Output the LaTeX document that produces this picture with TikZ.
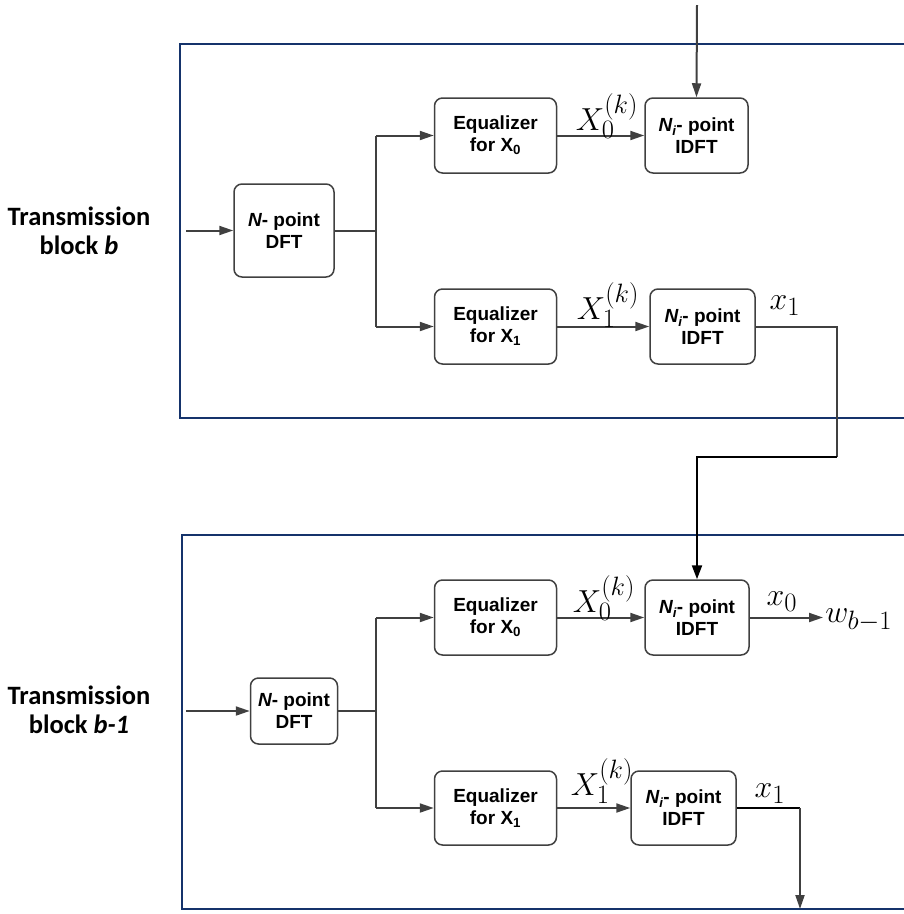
\documentclass[tikz,border=0pt]{standalone}
\usepackage[no-math]{fontspec}
\setmainfont{Liberation Sans}
\newfontfamily\calfont{Carlito}
\usetikzlibrary{arrows.meta}
\definecolor{framecol}{HTML}{15336B}
\definecolor{linecol}{HTML}{404040}
\tikzset{
  blk/.style={draw=linecol, line width=1.5pt, rounded corners=8pt, align=center, inner sep=0pt,
    font=\fontsize{19}{22}\selectfont\bfseries},
  frame/.style={draw=framecol, line width=2.8pt},
  conn/.style={draw=linecol, line width=2pt},
  arr/.style={conn, -{Triangle[length=14pt,width=9pt]}},
  darr/.style={draw=black, line width=2.2pt, -{Triangle[length=14pt,width=10pt]}},
  dconn/.style={draw=black, line width=2.2pt},
  mlab/.style={inner sep=0pt, font=\fontsize{24.88}{28}\selectfont, scale=1.28, transform shape},
  tlab/.style={align=center, font=\fontsize{26.5}{29}\selectfont\calfont\bfseries}
}
\newcommand{\Npt}{{\itshape N}- point}
\newcommand{\Nipt}{{\itshape N\textsubscript{i}}- point}
\begin{document}
\begin{tikzpicture}[x=1pt,y=-1pt]
\useasboundingbox (0,0) rectangle (904,914);
% frames
\draw[frame] (904,44) -- (180,44) -- (180,418) -- (904,418);
\draw[frame] (904,535) -- (182,535) -- (182,909) -- (904,909);
% labels
\node[tlab] (tb1) at (79,231) {Transmission\\block \textit{b}};
\node[tlab] (tb2) at (79,710) {Transmission\\block \textit{b-1}};
% top block nodes
\node[blk, minimum width=100pt, minimum height=93pt] (dft1) at (284,230.5) {\Npt\\DFT};
\node[blk, minimum width=122pt, minimum height=75pt] (eq10) at (495.5,135.5) {Equalizer\\for X\textsubscript{0}};
\node[blk, minimum width=103pt, minimum height=75pt] (idft10) at (696.5,135.5) {\Nipt\\IDFT};
\node[blk, minimum width=122pt, minimum height=75pt] (eq11) at (495.5,326.5) {Equalizer\\for X\textsubscript{1}};
\node[blk, minimum width=105pt, minimum height=75pt] (idft11) at (702.5,326.5) {\Nipt\\IDFT};
% bottom block nodes
\node[blk, minimum width=87pt, minimum height=66pt] (dft2) at (294,711) {\Npt\\DFT};
\node[blk, minimum width=122pt, minimum height=75pt] (eq20) at (495.5,617.5) {Equalizer\\for X\textsubscript{0}};
\node[blk, minimum width=104pt, minimum height=75pt] (idft20) at (697,617.5) {\Nipt\\IDFT};
\node[blk, minimum width=122pt, minimum height=74pt] (eq21) at (495.5,808) {Equalizer\\for X\textsubscript{1}};
\node[blk, minimum width=105pt, minimum height=74pt] (idft21) at (683.5,808) {\Nipt\\IDFT};
% coordinates
\coordinate (topin) at (697,5);
\coordinate (in1) at (186,230.5);
\coordinate (br1) at (376,230.5);
\coordinate (br1a) at (376,135.5);
\coordinate (br1b) at (376,326.5);
\coordinate (c1) at (837,326.5);
\coordinate (c2) at (837,457);
\coordinate (c3) at (697,457);
\coordinate (in2) at (186,711);
\coordinate (br2) at (376,711);
\coordinate (br2a) at (376,617.5);
\coordinate (br2b) at (376,808);
\coordinate (out0) at (823,617.5);
\coordinate (d1) at (800,808);
\coordinate (d2) at (800,909);
% top block connectors
\draw[arr] (topin) -- (idft10.north);
\draw[arr] (in1) -- (dft1.west);
\draw[conn] (dft1.east) -- (br1);
\draw[conn] (br1a) -- (br1b);
\draw[arr] (br1a) -- (eq10.west);
\draw[arr] (br1b) -- (eq11.west);
\draw[arr] (eq10.east) -- (idft10.west);
\draw[arr] (eq11.east) -- (idft11.west);
\draw[conn] (idft11.east) -- (c1) -- (c2);
\draw[darr] (c2) -- (c3) -- (idft20.north);
% bottom block connectors
\draw[arr] (in2) -- (dft2.west);
\draw[conn] (dft2.east) -- (br2);
\draw[conn] (br2a) -- (br2b);
\draw[arr] (br2a) -- (eq20.west);
\draw[arr] (br2b) -- (eq21.west);
\draw[arr] (eq20.east) -- (idft20.west);
\draw[arr] (eq21.east) -- (idft21.west);
\draw[arr] (idft20.east) -- (out0);
\draw[dconn] (idft21.east) -- (d1);
\draw[arr] (d1) -- (d2);
% math labels
\node[mlab] (l1) at (607,116) {$X_0^{(k)}$};
\node[mlab] (l2) at (608,305) {$X_1^{(k)}$};
\node[mlab] (l3) at (785,306) {$x_1$};
\node[mlab] (l4) at (604,598) {$X_0^{(k)}$};
\node[mlab] (l5) at (782,602) {$x_0$};
\node[mlab, anchor=west] (l6) at (825,620) {$w_{b-1}$};
\node[mlab] (l7) at (602,781) {$X_1^{(k)}$};
\node[mlab] (l8) at (770,794) {$x_1$};
\end{tikzpicture}
\end{document}
